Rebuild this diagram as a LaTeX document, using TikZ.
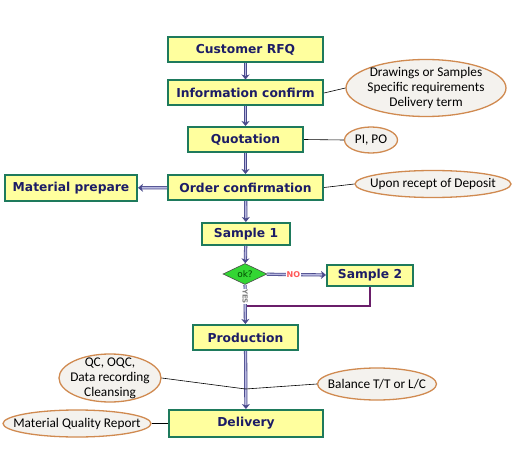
\documentclass[tikz,border=0pt]{standalone}
\usepackage{fontspec}
\setmainfont{DejaVu Sans}
\newfontfamily\calib{Carlito}
\usetikzlibrary{shapes.geometric,arrows.meta}
\definecolor{boxfill}{HTML}{FFFF9E}
\definecolor{boxline}{HTML}{1E7A5C}
\definecolor{boxtext}{HTML}{1C1C66}
\definecolor{arrline}{HTML}{4A4A8C}
\definecolor{arrfill}{HTML}{B8B8E0}
\definecolor{ellline}{HTML}{D08A50}
\definecolor{ellfill}{HTML}{F4F2EE}
\definecolor{purp}{HTML}{6A1E6A}
\definecolor{okgreen}{HTML}{33D633}
\tikzset{
  stepbox/.style={draw=boxline, line width=2pt, fill=boxfill, text=boxtext,
    font=\bfseries\fontsize{12.3}{13}\selectfont, inner sep=0pt, rectangle},
  note/.style={ellipse, draw=ellline, line width=1.3pt, fill=ellfill, inner sep=0pt},
  notetext/.style={inner sep=0pt, font=\calib\fontsize{13.3}{15}\selectfont, align=center},
  flow/.style={draw=arrline, line width=0.8pt, double=arrfill, double distance=1.6pt,
    -{Stealth[length=5pt,width=8pt,inset=1.5pt]}},
  link/.style={draw=black, line width=0.6pt}
}
\begin{document}
\begin{tikzpicture}[x=1pt,y=-1pt]
\useasboundingbox (0,0) rectangle (522,468);
% process boxes
\node[stepbox, minimum width=155pt, minimum height=25pt] (rfq) at (245.5,49.5) {Customer RFQ};
\node[stepbox, minimum width=155pt, minimum height=25pt] (info) at (245.5,93) {Information confirm};
\node[stepbox, minimum width=115pt, minimum height=25pt] (quot) at (245.5,139.5) {Quotation};
\node[stepbox, minimum width=155pt, minimum height=25pt] (order) at (245.5,187.5) {Order confirmation};
\node[stepbox, minimum width=132pt, minimum height=26pt] (mat) at (71,188) {Material prepare};
\node[stepbox, minimum width=88pt, minimum height=22pt] (s1) at (246,234) {Sample 1};
\node[diamond, draw=black!70, line width=0.6pt, fill=okgreen, aspect=2.1, inner sep=0pt,
  minimum width=44pt, minimum height=21pt, text=green!30!black, font=\fontsize{9}{9}\selectfont] (ok) at (245,274) {ok?};
\node[stepbox, minimum width=86pt, minimum height=21pt] (s2) at (370,275.5) {Sample 2};
\node[stepbox, minimum width=105pt, minimum height=25pt] (prod) at (245.5,337.5) {Production};
\node[stepbox, minimum width=154pt, minimum height=27pt] (deliv) at (246,423.5) {Delivery};
% notes
\node[note, minimum width=160pt, minimum height=57pt] (n1) at (426,88) {};
\node[notetext] (t1) at (n1) {Drawings or Samples\\Specific requirements\\Delivery term};
\node[note, minimum width=53pt, minimum height=26pt] (n2) at (371,140) {};
\node[notetext] (t2) at (n2) {PI, PO};
\node[note, minimum width=156pt, minimum height=27pt] (n3) at (433,184) {};
\node[notetext] (t3) at (n3) {Upon recept of Deposit};
\node[note, minimum width=102pt, minimum height=48pt] (n4) at (110,378) {};
\node[notetext] (t4) at (n4) {QC, OQC,\\Data recording\\Cleansing};
\node[note, minimum width=119pt, minimum height=32pt] (n5) at (377,384) {};
\node[notetext] (t5) at (n5) {Balance T/T or L/C};
\node[note, minimum width=148pt, minimum height=27pt] (n6) at (77,423.5) {};
\node[notetext] (t6) at (n6) {Material Quality Report};
% flow arrows
\draw[flow] (rfq) -- (info);
\draw[flow] (info) -- (quot);
\draw[flow] (quot) -- (order);
\draw[flow] (order) -- (mat);
\draw[flow] (order) -- (s1);
\draw[flow] (s1) -- (ok);
\draw[flow] (ok) -- node[pos=0.45, fill=white, inner sep=0.5pt, text=red!65!white, font=\bfseries\fontsize{8}{9}\selectfont]{NO} (s2);
\coordinate (join) at (245,306);
\draw[purp, line width=1.8pt] (s2.south) |- (join);
\draw[flow] (ok) -- node[pos=0.3, rotate=-90, fill=white, inner sep=0.5pt, text=gray, font=\bfseries\fontsize{7}{8}\selectfont]{YES} (prod);
\draw[flow] (prod) -- (deliv);
% links
\coordinate (m1) at (245.5,389);
\draw[link] (info.east) -- (n1.west);
\draw[link] (quot.east) -- (n2.west);
\draw[link] (order.east) -- (n3.west);
\draw[link] (n4.east) -- (m1);
\draw[link] (n5.west) -- (m1);
\draw[link] (n6.east) -- (deliv.west);
\end{tikzpicture}
\end{document}
